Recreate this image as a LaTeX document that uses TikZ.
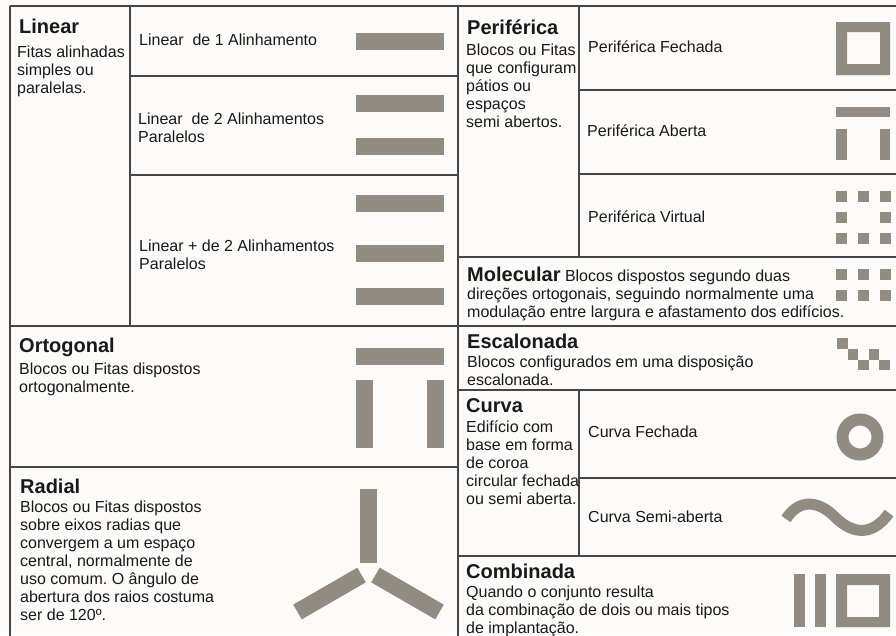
\documentclass[tikz,border=0pt]{standalone}
\usepackage{fontspec}
\setmainfont{Liberation Sans}
\frenchspacing
\definecolor{bgc}{RGB}{252,251,249}
\definecolor{blk}{RGB}{146,139,130}
\definecolor{frm}{RGB}{70,70,70}
\definecolor{txt}{RGB}{25,25,25}
\newcommand\ml[1]{\begin{tabular}[t]{@{}l@{}}#1\end{tabular}}
\tikzset{
  hd/.style={anchor=base west, inner sep=0pt, text=txt, font=\fontsize{20}{22}\selectfont\bfseries},
  bd/.style={anchor=base west, inner sep=0pt, text=txt, font=\fontsize{16}{18}\selectfont},
  frame/.style={draw=frm, line width=1.3pt},
  blkfill/.style={fill=blk},
}
\begin{document}
\begin{tikzpicture}[x=1pt,y=-1pt]
\fill[bgc] (0,0) rectangle (896,635);
\useasboundingbox (0,0) rectangle (896,635);

% ---------- frame lines ----------
\draw[frame] (10,6) -- (900,6);
\draw[frame] (10,6) -- (10,640);
\draw[frame] (458,6) -- (458,640);
\draw[frame] (10,326) -- (900,326);
\draw[frame] (10,467) -- (458,467);
\draw[frame] (130,6) -- (130,326);
\draw[frame] (130,76) -- (458,76);
\draw[frame] (130,175) -- (458,175);
\draw[frame] (579,6) -- (579,257);
\draw[frame] (579,90) -- (900,90);
\draw[frame] (579,174) -- (900,174);
\draw[frame] (458,257) -- (900,257);
\draw[frame] (458,390) -- (900,390);
\draw[frame] (579,390) -- (579,556);
\draw[frame] (579,478) -- (900,478);
\draw[frame] (458,556) -- (900,556);

% ---------- Linear ----------
\node[hd] (linT) at (19,33) {Linear};
\node[bd] (linB) at (17,57) {\ml{Fitas alinhadas\\simples ou\\paralelas.}};
\node[bd] (lin1) at (139,45) {Linear~ de 1 Alinhamento};
\node[bd] (lin2) at (138,124) {\ml{Linear~ de 2 Alinhamentos\\Paralelos}};
\node[bd] (lin3) at (139,251) {\ml{Linear + de 2 Alinhamentos\\Paralelos}};
\fill[blkfill] (356,33) rectangle (444,50);
\fill[blkfill] (356,95) rectangle (444,112);
\fill[blkfill] (356,138) rectangle (444,155);
\fill[blkfill] (356,195) rectangle (444,212);
\fill[blkfill] (356,245) rectangle (444,262);
\fill[blkfill] (356,288) rectangle (444,305);

% ---------- Ortogonal ----------
\node[hd] (ortT) at (19,352) {Ortogonal};
\node[bd] (ortB) at (19,374) {\ml{Blocos ou Fitas dispostos\\ortogonalmente.}};
\fill[blkfill] (356,348) rectangle (444,365);
\fill[blkfill] (356,380) rectangle (373,448);
\fill[blkfill] (427,380) rectangle (444,448);

% ---------- Radial ----------
\node[hd] (radT) at (20,493) {Radial};
\node[bd] (radB) at (20,512) {\ml{Blocos ou Fitas dispostos\\sobre eixos radias que\\convergem a um espaço\\central, normalmente de\\uso comum. O ângulo de\\abertura dos raios costuma\\ser de 120º.}};
\begin{scope}[shift={(368.5,571)}]
  \fill[blkfill] (-8.5,-82) rectangle (8.5,-8);
  \fill[blkfill, rotate=120] (-8.5,-82) rectangle (8.5,-8);
  \fill[blkfill, rotate=-120] (-8.5,-82) rectangle (8.5,-8);
\end{scope}

% ---------- Periferica ----------
\node[hd] (perT) at (467,34) {Periférica};
\node[bd] (perB) at (466,55) {\ml{Blocos ou Fitas\\que configuram\\pátios ou\\espaços\\semi abertos.}};
\node[bd] (per1) at (588,52) {Periférica Fechada};
\node[bd] (per2) at (587,136) {Periférica Aberta};
\node[bd] (per3) at (588,222) {Periférica Virtual};
\fill[blkfill, even odd rule] (836,22) rectangle (890,75) (847,32) rectangle (880,64);
\fill[blkfill] (836,107) rectangle (890,117);
\fill[blkfill] (836,129) rectangle (847,160);
\fill[blkfill] (880,129) rectangle (890,160);
\foreach \xx in {836,858,880} {
  \fill[blkfill] (\xx,191) rectangle ++(10.5,10.5);
  \fill[blkfill] (\xx,233) rectangle ++(10.5,10.5);
}
\fill[blkfill] (836,212) rectangle ++(10.5,10.5);
\fill[blkfill] (880,212) rectangle ++(10.5,10.5);

% ---------- Molecular ----------
\node[bd] (molB) at (467,281) {\ml{{\fontsize{20}{22}\selectfont\bfseries Molecular} Blocos dispostos segundo duas\\direções ortogonais, seguindo normalmente uma\\modulação entre largura e afastamento dos edifícios.}};
\foreach \xx in {836,858,880} {
  \fill[blkfill] (\xx,269) rectangle ++(10.5,10.5);
  \fill[blkfill] (\xx,290) rectangle ++(10.5,10.5);
}

% ---------- Escalonada ----------
\node[hd] (escT) at (467,348) {Escalonada};
\node[bd] (escB) at (467,367) {\ml{Blocos configurados em uma disposição\\escalonada.}};
\fill[blkfill] (837,338) rectangle ++(10.6,10.8);
\fill[blkfill] (847.6,348.8) rectangle ++(10.6,10.8);
\fill[blkfill] (868.8,348.8) rectangle ++(10.6,10.8);
\fill[blkfill] (858.2,359.6) rectangle ++(10.6,10.8);
\fill[blkfill] (879.4,359.6) rectangle ++(10.6,10.8);

% ---------- Curva ----------
\node[hd] (curT) at (466,412) {Curva};
\node[bd] (curB) at (466,432) {\ml{Edifício com\\base em forma\\de coroa\\circular fechada\\ou semi aberta.}};
\node[bd] (cur1) at (588,437) {Curva Fechada};
\node[bd] (cur2) at (588,522) {Curva Semi-aberta};
\draw[blk, line width=12pt] (860,437) circle[radius=17.5];
\draw[blk, line width=11pt] (786,519) .. controls (798,500) and (817,499) .. (835,517)
  .. controls (853,535) and (873,536) .. (889,513);

% ---------- Combinada ----------
\node[hd] (comT) at (466,578) {Combinada};
\node[bd] (comB) at (466,597) {\ml{Quando o conjunto resulta\\da combinação de dois ou mais tipos\\de implantação.}};
\fill[blkfill] (794,574) rectangle (805,627);
\fill[blkfill] (815,574) rectangle (826,627);
\fill[blkfill, even odd rule] (836,574) rectangle (890,627) (847,585) rectangle (879,617);
\end{tikzpicture}
\end{document}
